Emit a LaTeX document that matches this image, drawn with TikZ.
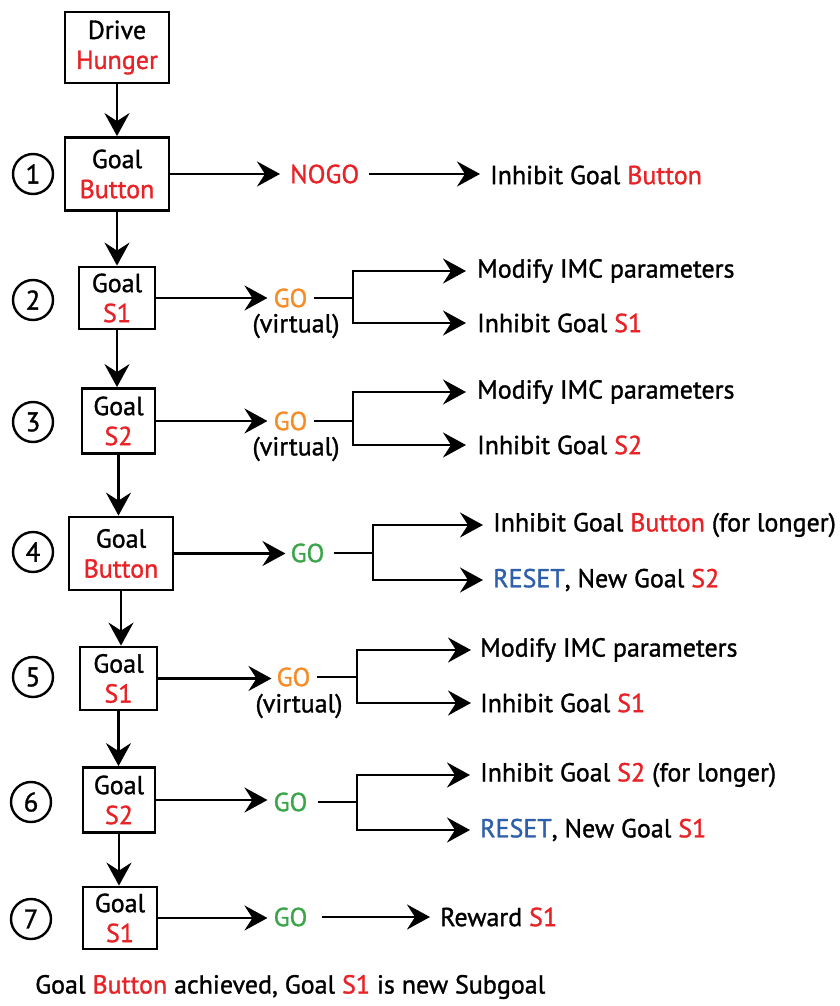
\documentclass[tikz,border=0pt]{standalone}
\usepackage{fontspec}
\setmainfont{PT Sans}[RawFeature={embolden=1.2}]
\usetikzlibrary{arrows.meta}
\definecolor{myred}{RGB}{232,35,40}
\definecolor{myorange}{RGB}{246,140,40}
\definecolor{mygreen}{RGB}{60,165,75}
\definecolor{myblue}{RGB}{45,95,170}
\newcommand\myfs{\fontsize{26}{30}\selectfont}
\newcommand\myrd[1]{\textcolor{myred}{#1}}
\begin{document}
\begin{tikzpicture}[x=1pt,y=-1pt,
  box/.style={draw, line width=2.8pt, inner sep=0pt, align=center, font=\myfs},
  num/.style={circle, draw, line width=2.4pt, minimum size=40pt, inner sep=0pt, font=\fontsize{27}{27}\selectfont},
  arr/.style={line width=2.6pt, -{Stealth[length=23pt,width=25pt,inset=8pt]}},
  ln/.style={line width=2.6pt},
  lbl/.style={inner sep=0pt, anchor=west, font=\myfs},
  gotxt/.style={inner sep=0pt, font=\myfs}
]
\useasboundingbox (0,0) rectangle (840,1006);

% boxes
\node[box, minimum width=104pt, minimum height=71pt] (b0) at (117,47.5) {Drive\\\myrd{Hunger}};
\node[box, minimum width=104pt, minimum height=73pt] (b1) at (117,174) {Goal\\\myrd{Button}};
\node[box, minimum width=76pt, minimum height=62pt] (b2) at (117,298) {Goal\\\myrd{S1}};
\node[box, minimum width=73pt, minimum height=65pt] (b3) at (118.5,421) {Goal\\\myrd{S2}};
\node[box, minimum width=104pt, minimum height=73pt] (b4) at (121,553.5) {Goal\\\myrd{Button}};
\node[box, minimum width=77pt, minimum height=63pt] (b5) at (118.5,678.5) {Goal\\\myrd{S1}};
\node[box, minimum width=72pt, minimum height=65pt] (b6) at (119,800) {Goal\\\myrd{S2}};
\node[box, minimum width=74pt, minimum height=62pt] (b7) at (120,918) {Goal\\\myrd{S1}};

% step numbers
\node[num] (n1) at (33,174) {1};
\node[num] (n2) at (33,300) {2};
\node[num] (n3) at (33,422) {3};
\node[num] (n4) at (33,552) {4};
\node[num] (n5) at (33,677) {5};
\node[num] (n6) at (31,802) {6};
\node[num] (n7) at (31,919) {7};

% vertical arrows
\draw[arr] (b0.south) -- (b0.south |- b1.north);
\draw[arr] (b1.south) -- (b1.south |- b2.north);
\draw[arr] (b2.south) -- (b2.south |- b3.north);
\draw[arr] (b3.south) -- (b3.south |- b4.north);
\draw[arr] (b4.south) -- (b4.south |- b5.north);
\draw[arr] (b5.south) -- (b5.south |- b6.north);
\draw[arr] (b6.south) -- (b6.south |- b7.north);

% row 1
\node[lbl] (nogo) at (290,174) {\myrd{NOGO}};
\node[lbl] (t1) at (490,175) {Inhibit Goal \myrd{Button}};
\draw[arr] (b1.east) -- ([xshift=-10pt]nogo.west |- b1.east);
\draw[arr] ([xshift=10pt]nogo.east |- b1.east) -- ([xshift=-10pt]t1.west |- b1.east);

% row 2
\node[gotxt] (go2) at (290.5,298) {\textcolor{myorange}{GO}};
\node[gotxt] (v2) at (296,326) {(virtual)};
\coordinate (j2) at (353,298);
\node[lbl] (m2) at (477,271) {Modify IMC parameters};
\node[lbl] (i2) at (477,323) {Inhibit Goal \myrd{S1}};
\draw[arr] (b2.east) -- ([xshift=-6pt]go2.west |- b2.east);
\draw[ln] ([xshift=6pt]go2.east) -- (j2);
\draw[arr] (j2) |- ([xshift=-11pt]m2.west);
\draw[arr] (j2) |- ([xshift=-11pt]i2.west);

% row 3
\node[gotxt] (go3) at (290.5,421) {\textcolor{myorange}{GO}};
\node[gotxt] (v3) at (296,449) {(virtual)};
\coordinate (j3) at (353,421);
\node[lbl] (m3) at (477,392) {Modify IMC parameters};
\node[lbl] (i3) at (477,445) {Inhibit Goal \myrd{S2}};
\draw[arr] (b3.east) -- ([xshift=-6pt]go3.west |- b3.east);
\draw[ln] ([xshift=6pt]go3.east) -- (j3);
\draw[arr] (j3) |- ([xshift=-11pt]m3.west);
\draw[arr] (j3) |- ([xshift=-11pt]i3.west);

% row 4
\node[gotxt] (go4) at (307.5,553) {\textcolor{mygreen}{GO}};
\coordinate (j4) at (373,553);
\node[lbl] (t4a) at (493,525) {Inhibit Goal \myrd{Button} (for longer)};
\node[lbl] (t4b) at (493,580) {\textcolor{myblue}{RESET}, New Goal \myrd{S2}};
\draw[arr] (b4.east) -- ([xshift=-5pt]go4.west |- b4.east);
\draw[ln] ([xshift=9pt]go4.east) -- (j4);
\draw[arr] (j4) |- ([xshift=-10pt]t4a.west);
\draw[arr] (j4) |- ([xshift=-10pt]t4b.west);

% row 5
\node[gotxt] (go5) at (293.5,677) {\textcolor{myorange}{GO}};
\node[gotxt] (v5) at (299,706) {(virtual)};
\coordinate (j5) at (357,677);
\node[lbl] (m5) at (480,650) {Modify IMC parameters};
\node[lbl] (i5) at (480,703) {Inhibit Goal \myrd{S1}};
\draw[arr] (b5.east) -- ([xshift=-5pt]go5.west |- b5.east);
\draw[ln] ([xshift=6pt]go5.east) -- (j5);
\draw[arr] (j5) |- ([xshift=-9pt]m5.west);
\draw[arr] (j5) |- ([xshift=-9pt]i5.west);

% row 6
\node[gotxt] (go6) at (290.5,802) {\textcolor{mygreen}{GO}};
\coordinate (j6) at (357,802);
\node[lbl] (t6a) at (480,775) {Inhibit Goal \myrd{S2} (for longer)};
\node[lbl] (t6b) at (480,830) {\textcolor{myblue}{RESET}, New Goal \myrd{S1}};
\draw[arr] (b6.east) -- ([xshift=-6pt]go6.west |- b6.east);
\draw[ln] ([xshift=10pt]go6.east) -- (j6);
\draw[arr] (j6) |- ([xshift=-10pt]t6a.west);
\draw[arr] (j6) |- ([xshift=-10pt]t6b.west);

% row 7
\node[gotxt] (go7) at (290.5,917) {\textcolor{mygreen}{GO}};
\node[lbl] (rw) at (440,917) {Reward \myrd{S1}};
\draw[arr] (b7.east) -- ([xshift=-6pt]go7.west |- b7.east);
\draw[arr] ([xshift=14pt]go7.east) -- ([xshift=-10pt]rw.west);

% bottom caption
\node[lbl] (cap) at (35,987) {Goal \myrd{Button} achieved, Goal \myrd{S1} is new Subgoal};
\end{tikzpicture}
\end{document}
